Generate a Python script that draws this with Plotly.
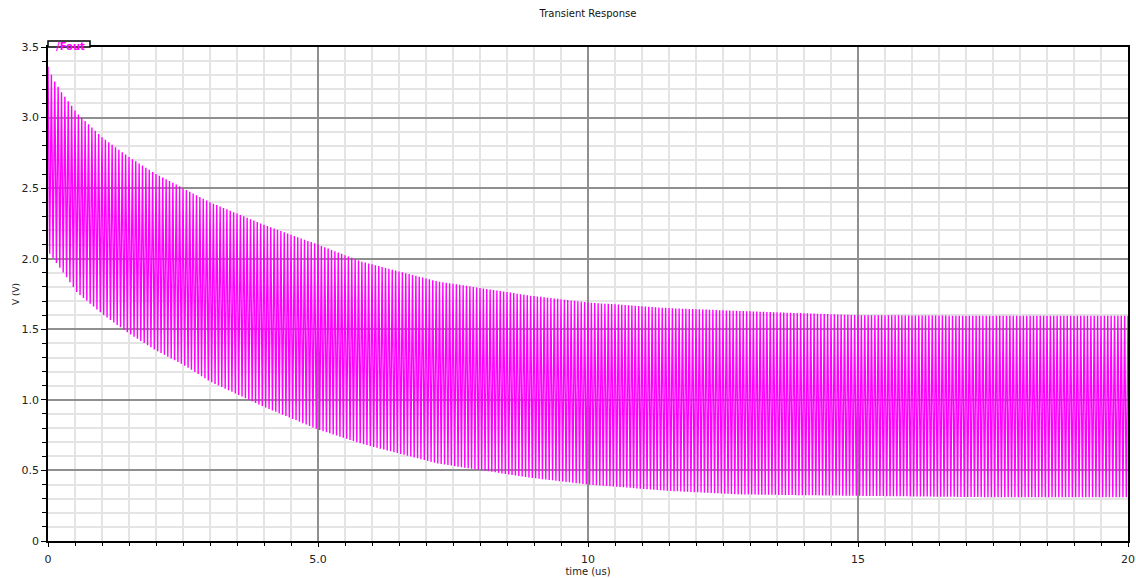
import numpy as np
import plotly.graph_objects as go

# Envelope readings of /Fout (time in us, volts)
env_t = [0.0, 0.1, 0.25, 0.54, 1.0, 1.5, 2.0, 2.5, 3.0, 4.0, 5.0, 5.8, 7.2, 8.9, 10.0, 11.5, 12.8, 15.0, 17.5, 20.0]
env_hi = [3.36, 3.27, 3.18, 3.03, 2.86, 2.72, 2.60, 2.50, 2.40, 2.24, 2.10, 1.98, 1.84, 1.74, 1.69, 1.65, 1.63, 1.60, 1.595, 1.595]
env_lo = [2.05, 2.00, 1.92, 1.76, 1.61, 1.47, 1.35, 1.25, 1.13, 0.95, 0.79, 0.69, 0.55, 0.45, 0.40, 0.355, 0.33, 0.32, 0.31, 0.31]
period_us = 1.0 / 16.0  # oscillation period

x_ticks = [0, 5, 10, 15, 20]
x_labels = ["0", "5.0", "10", "15", "20"]
y_ticks = [0, 0.5, 1.0, 1.5, 2.0, 2.5, 3.0, 3.5]
y_labels = ["0", "0.5", "1.0", "1.5", "2.0", "2.5", "3.0", "3.5"]

# waveform switching between the read envelopes every half period
t_edges = np.arange(0, 20 + 1e-9, period_us / 2)
hi = np.interp(t_edges, env_t, env_hi)
lo = np.interp(t_edges, env_t, env_lo)
v = np.where(np.arange(len(t_edges)) % 2 == 0, hi, lo)

fig = go.Figure()
fig.add_trace(go.Scatter(x=t_edges, y=v, mode="lines",
                         line=dict(color="#ff00ff", width=1.4), name="/Fout",
                         showlegend=False, hoverinfo="skip"))

font = "DejaVu Sans"
fig.update_layout(
    width=1136, height=578,
    margin=dict(l=48, r=8, t=47, b=37, autoexpand=False),
    paper_bgcolor="white", plot_bgcolor="white",
    title=dict(text="Transient Response", x=0.5, xref="paper", xanchor="center",
               y=1 - 13 / 578, yref="container", yanchor="middle",
               font=dict(family=font, size=10, color="#111")),
    font=dict(family=font, size=10, color="#222"),
    xaxis=dict(range=[0, 20], tickmode="array", tickvals=x_ticks, ticktext=x_labels,
               automargin=False,
               showline=True, linecolor="black", linewidth=1.5, mirror=True,
               ticks="outside", ticklen=4, tickcolor="black", tickwidth=1,
               showgrid=True, gridcolor="#8f8f8f", gridwidth=1.5, zeroline=False,
               minor=dict(dtick=0.5, showgrid=True, gridcolor="#e4e4e4", gridwidth=1.5,
                          ticks="outside", ticklen=3, tickcolor="black"),
               title=dict(text="time (us)", font=dict(family=font, size=10), standoff=0),
               tickfont=dict(family=font, size=11),
               ticklabelstandoff=3),
    yaxis=dict(range=[0, 3.5], tickmode="array", tickvals=y_ticks, ticktext=y_labels,
               automargin=False,
               showline=True, linecolor="black", linewidth=1.5, mirror=True,
               ticks="outside", ticklen=5, tickcolor="black", tickwidth=1,
               showgrid=True, gridcolor="#8f8f8f", gridwidth=1.5, zeroline=False,
               minor=dict(dtick=0.1, showgrid=True, gridcolor="#e4e4e4", gridwidth=1.5,
                          ticks="outside", ticklen=4, tickcolor="black"),
               title=dict(text="V (V)", font=dict(family=font, size=9), standoff=0),
               tickfont=dict(family=font, size=11)),
)

# trace-name tab at top-left of the plot frame
fig.add_shape(type="rect", xref="paper", yref="paper",
              xsizemode="pixel", ysizemode="pixel", xanchor=0, yanchor=1,
              x0=0, x1=42, y0=0, y1=6, line=dict(color="black", width=1.5),
              fillcolor="white", layer="above")
fig.add_annotation(text="<b>/Fout</b>", xref="paper", yref="paper", x=0, y=1,
                   xanchor="left", yanchor="middle", xshift=6, yshift=1, showarrow=False,
                   font=dict(family=font, size=10, color="#ff00ff"))

fig.write_html("out.html", config={"displayModeBar": False})

# remove the browser's default page margin so the figure sits at the window origin
with open("out.html", "r", encoding="utf-8") as f:
    html = f.read()
html = html.replace("<body>", '<body style="margin:0;padding:0;overflow:hidden">', 1)
with open("out.html", "w", encoding="utf-8") as f:
    f.write(html)
